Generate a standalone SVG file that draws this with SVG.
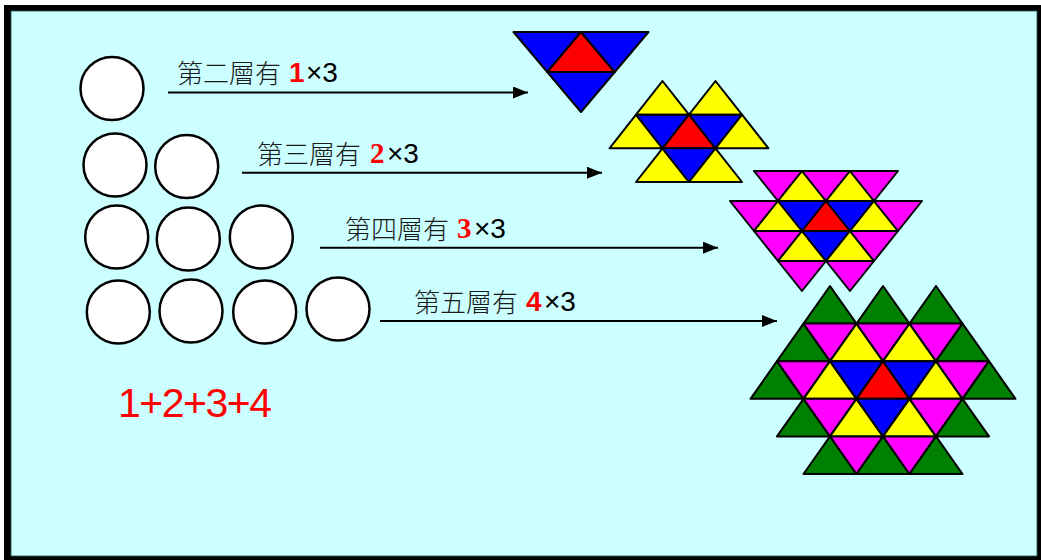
<svg xmlns="http://www.w3.org/2000/svg" width="1041" height="560" viewBox="0 0 1041 560">
<style>
.c{fill:#fff;stroke:#000;stroke-width:2.5}
.t polygon{stroke:#000;stroke-width:2;stroke-linejoin:round}
.B{fill:#0000ff}.R{fill:#ff0000}.Y{fill:#ffff00}.M{fill:#ff00ff}.G{fill:#008000}
.lab{font-family:"Noto Sans CJK TC","Noto Sans CJK SC",sans-serif;font-size:26px;font-weight:300;fill:#1a1a1a}
.x{font-family:"Liberation Sans",Arial,sans-serif;font-size:28px;fill:#000}
.ds{font-family:"Liberation Sans",Arial,sans-serif;font-size:28px;font-weight:bold;fill:#ff0000}
.dr{font-family:"Liberation Serif","Times New Roman",serif;font-size:29px;font-weight:bold;fill:#ff0000}
.arr{stroke:#000;stroke-width:2;fill:none;marker-end:url(#ah)}
</style>
<defs>
<marker id="ah" markerUnits="userSpaceOnUse" markerWidth="16" markerHeight="14" refX="15" refY="6" orient="auto">
<path d="M0,0 L15,6 L0,12 z" fill="#000"/>
</marker>
</defs>
<rect x="4" y="5" width="1037" height="555" fill="#000"/>
<rect x="11" y="11" width="1026" height="545" fill="#ccffff" stroke="#2a5555" stroke-width="0.8"/>

<g id="circles-row1">
<circle class="c" cx="112" cy="88.5" r="31.5"/>
</g>
<g id="circles-row2">
<circle class="c" cx="115" cy="165" r="31.5"/>
<circle class="c" cx="186.7" cy="166.5" r="31.5"/>
</g>
<g id="circles-row3">
<circle class="c" cx="116.7" cy="237" r="31.5"/>
<circle class="c" cx="188.3" cy="239" r="31.5"/>
<circle class="c" cx="261.3" cy="237" r="31.5"/>
</g>
<g id="circles-row4">
<circle class="c" cx="118.3" cy="312" r="31.5"/>
<circle class="c" cx="191" cy="311" r="31.5"/>
<circle class="c" cx="264.7" cy="312" r="31.5"/>
<circle class="c" cx="338" cy="309" r="31.5"/>
</g>

<g id="label-2">
<text class="lab" x="177" y="83">第二層有</text>
<text class="ds" x="289" y="82">1</text>
<text class="x" x="306" y="82">×3</text>
</g>
<g id="label-3">
<text class="lab" x="257" y="164">第三層有</text>
<text class="dr" x="370" y="163">2</text>
<text class="x" x="387" y="163">×3</text>
</g>
<g id="label-4">
<text class="lab" x="345" y="239">第四層有</text>
<text class="dr" x="457" y="238">3</text>
<text class="x" x="474" y="238">×3</text>
</g>
<g id="label-5">
<text class="lab" x="414" y="312">第五層有</text>
<text class="ds" x="526" y="311">4</text>
<text class="x" x="544" y="311">×3</text>
</g>

<g id="sum">
<text x="118" y="416.5" font-family="Liberation Sans, Arial, sans-serif" font-size="41" letter-spacing="-1.5" fill="#ff0000">1+2+3+4</text>
</g>

<g id="connectors">
<line class="arr" x1="168" y1="92.5" x2="528" y2="92.5"/>
<line class="arr" x1="242" y1="172.7" x2="602" y2="172.7"/>
<line class="arr" x1="320" y1="247.7" x2="718" y2="247.7"/>
<line class="arr" x1="380" y1="321" x2="777" y2="321"/>
</g>

<g id="fig-layer2" class="t">
<polygon class="B" points="513.5,32 581,32 547.25,72"/>
<polygon class="R" points="581,32 547.25,72 614.75,72"/>
<polygon class="B" points="581,32 648.5,32 614.75,72"/>
<polygon class="B" points="547.25,72 614.75,72 581,112"/>
</g>

<g id="fig-layer3" class="t">
<polygon class="Y" points="662.5,81 636,114.7 689,114.7"/>
<polygon class="Y" points="715.5,81 689,114.7 742,114.7"/>
<polygon class="Y" points="636,114.7 609.5,148.3 662.5,148.3"/>
<polygon class="B" points="636,114.7 689,114.7 662.5,148.3"/>
<polygon class="R" points="689,114.7 662.5,148.3 715.5,148.3"/>
<polygon class="B" points="689,114.7 742,114.7 715.5,148.3"/>
<polygon class="Y" points="742,114.7 715.5,148.3 768.5,148.3"/>
<polygon class="Y" points="662.5,148.3 636,182 689,182"/>
<polygon class="B" points="662.5,148.3 715.5,148.3 689,182"/>
<polygon class="Y" points="715.5,148.3 689,182 742,182"/>
</g>

<g id="fig-layer4" class="t">
<polygon class="M" points="754,171 802,171 778,201"/>
<polygon class="Y" points="802,171 778,201 826,201"/>
<polygon class="M" points="802,171 850,171 826,201"/>
<polygon class="Y" points="850,171 826,201 874,201"/>
<polygon class="M" points="850,171 898,171 874,201"/>
<polygon class="M" points="730,201 778,201 754,231"/>
<polygon class="Y" points="778,201 754,231 802,231"/>
<polygon class="B" points="778,201 826,201 802,231"/>
<polygon class="R" points="826,201 802,231 850,231"/>
<polygon class="B" points="826,201 874,201 850,231"/>
<polygon class="Y" points="874,201 850,231 898,231"/>
<polygon class="M" points="874,201 922,201 898,231"/>
<polygon class="M" points="754,231 802,231 778,261"/>
<polygon class="Y" points="802,231 778,261 826,261"/>
<polygon class="B" points="802,231 850,231 826,261"/>
<polygon class="Y" points="850,231 826,261 874,261"/>
<polygon class="M" points="850,231 898,231 874,261"/>
<polygon class="M" points="778,261 826,261 802,291"/>
<polygon class="M" points="826,261 874,261 850,291"/>
</g>

<g id="fig-layer5" class="t">
<polygon class="G" points="830,286 803.5,323.6 856.5,323.6"/>
<polygon class="G" points="883,286 856.5,323.6 909.5,323.6"/>
<polygon class="G" points="936,286 909.5,323.6 962.5,323.6"/>

<polygon class="G" points="803.5,323.6 777,361.2 830,361.2"/>
<polygon class="M" points="803.5,323.6 856.5,323.6 830,361.2"/>
<polygon class="Y" points="856.5,323.6 830,361.2 883,361.2"/>
<polygon class="M" points="856.5,323.6 909.5,323.6 883,361.2"/>
<polygon class="Y" points="909.5,323.6 883,361.2 936,361.2"/>
<polygon class="M" points="909.5,323.6 962.5,323.6 936,361.2"/>
<polygon class="G" points="962.5,323.6 936,361.2 989,361.2"/>

<polygon class="G" points="777,361.2 750.5,398.8 803.5,398.8"/>
<polygon class="M" points="777,361.2 830,361.2 803.5,398.8"/>
<polygon class="Y" points="830,361.2 803.5,398.8 856.5,398.8"/>
<polygon class="B" points="830,361.2 883,361.2 856.5,398.8"/>
<polygon class="R" points="883,361.2 856.5,398.8 909.5,398.8"/>
<polygon class="B" points="883,361.2 936,361.2 909.5,398.8"/>
<polygon class="Y" points="936,361.2 909.5,398.8 962.5,398.8"/>
<polygon class="M" points="936,361.2 989,361.2 962.5,398.8"/>
<polygon class="G" points="989,361.2 962.5,398.8 1015.5,398.8"/>

<polygon class="G" points="803.5,398.8 777,436.4 830,436.4"/>
<polygon class="M" points="803.5,398.8 856.5,398.8 830,436.4"/>
<polygon class="Y" points="856.5,398.8 830,436.4 883,436.4"/>
<polygon class="B" points="856.5,398.8 909.5,398.8 883,436.4"/>
<polygon class="Y" points="909.5,398.8 883,436.4 936,436.4"/>
<polygon class="M" points="909.5,398.8 962.5,398.8 936,436.4"/>
<polygon class="G" points="962.5,398.8 936,436.4 989,436.4"/>

<polygon class="G" points="830,436.4 803.5,474 856.5,474"/>
<polygon class="M" points="830,436.4 883,436.4 856.5,474"/>
<polygon class="G" points="883,436.4 856.5,474 909.5,474"/>
<polygon class="M" points="883,436.4 936,436.4 909.5,474"/>
<polygon class="G" points="936,436.4 909.5,474 962.5,474"/>
</g>
</svg>
